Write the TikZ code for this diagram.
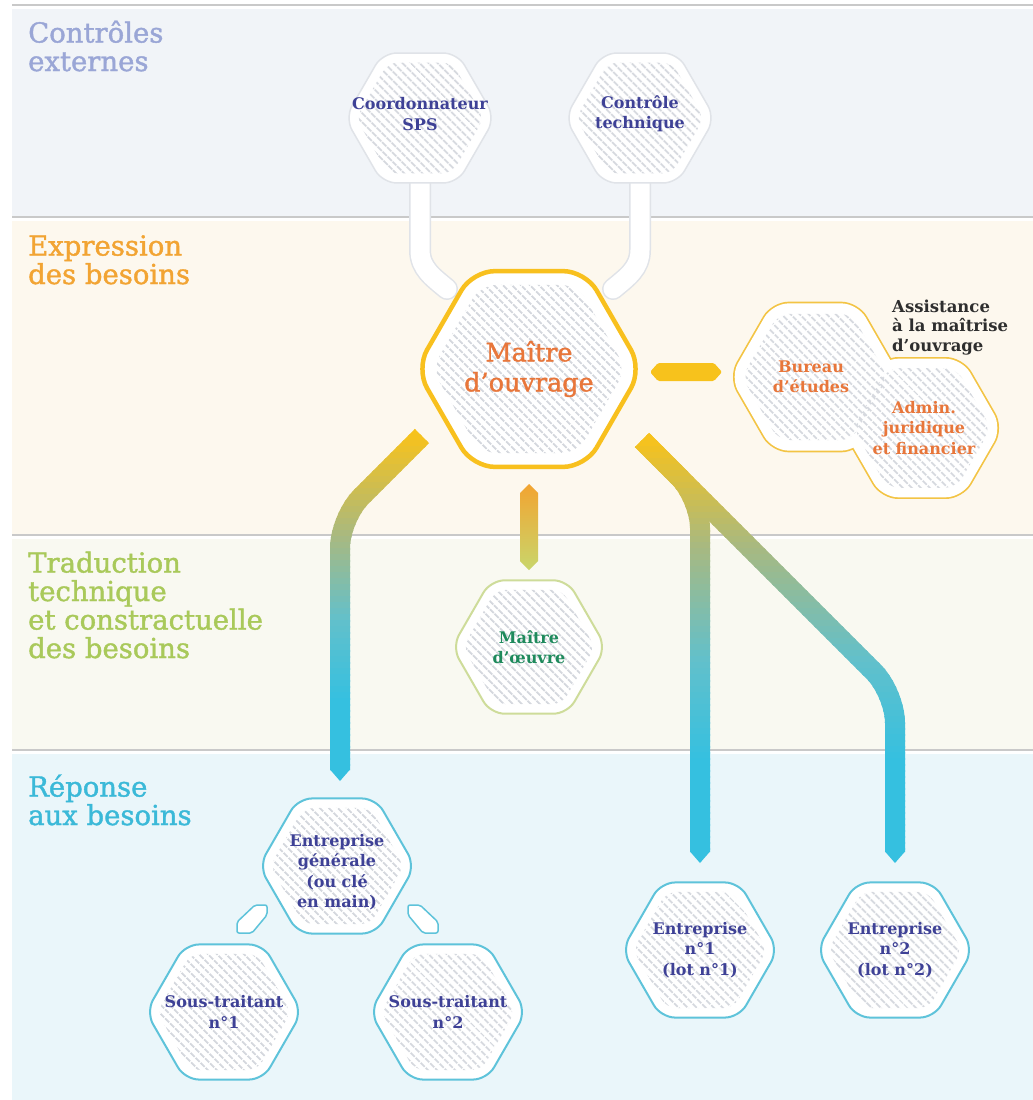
\documentclass[tikz,border=0pt]{standalone}
\usepackage{fontspec}
\setmainfont{DejaVu Serif}
\newfontfamily\headfont{DejaVu Serif}[FakeBold=1.4]
\usetikzlibrary{shapes.geometric,patterns.meta,calc}
\definecolor{cyel}{HTML}{F7C21C}
\definecolor{colive}{HTML}{A9B97F}
\definecolor{cteal}{HTML}{62C0CB}
\definecolor{ccyan}{HTML}{35C0E0}
\definecolor{moborder}{HTML}{F8C01E}
\definecolor{hexgray}{HTML}{E0E3E8}
\definecolor{indigo}{HTML}{3E4196}
\definecolor{orangetext}{HTML}{E8763A}
\definecolor{amoc}{HTML}{F3C444}
\definecolor{moec}{HTML}{CEDC9A}
\definecolor{greentext}{HTML}{1E8A5C}
\definecolor{cyanb}{HTML}{5EC3DA}
\definecolor{bandA}{HTML}{F1F4F8}
\definecolor{bandB}{HTML}{FDF8EE}
\definecolor{bandC}{HTML}{F9F9F1}
\definecolor{bandD}{HTML}{EAF6FA}
\definecolor{sepline}{HTML}{C9C9C9}
\definecolor{hatchc}{HTML}{D5D8DE}
\definecolor{hA}{HTML}{9AA6D6}
\definecolor{hB}{HTML}{F2A433}
\definecolor{hC}{HTML}{A9C95A}
\definecolor{hD}{HTML}{3BB9D8}
\definecolor{darktext}{HTML}{2E2E2E}
\definecolor{barorange}{HTML}{F2A431}
\definecolor{bargreen}{HTML}{C9D66B}
\newcommand\gradcol[5]{%
  \pgfmathsetmacro\gy{#1}%
  \ifdim\gy pt<#3pt
    \pgfmathsetmacro\gp{max(0,min(100,(#3-\gy)/(#3-#2)*100))}%
    \colorlet{gc}{cyel!\gp!colive}%
  \else\ifdim\gy pt<#4pt
    \pgfmathsetmacro\gp{(#4-\gy)/(#4-#3)*100}%
    \colorlet{gc}{colive!\gp!cteal}%
  \else
    \pgfmathsetmacro\gp{max(0,(#5-\gy)/(#5-#4)*100)}%
    \colorlet{gc}{cteal!\gp!ccyan}%
  \fi\fi}
\tikzset{
  hexbase/.style={regular polygon, regular polygon sides=6, inner sep=0pt, outer sep=0pt, fill=white},
  hexhatch/.style={regular polygon, regular polygon sides=6, inner sep=0pt, outer sep=0pt,
     pattern={Lines[angle=-45,distance=6.5pt,line width=2.2pt]}, pattern color=hatchc},
  ntext/.style={align=center, font=\bfseries\fontsize{16}{20.5}\selectfont, text=indigo, inner sep=0pt},
  heading/.style={align=left, anchor=base west, inner sep=0pt, font=\headfont\fontsize{27.5}{28.5}\selectfont},
  conn/.style={line width=20pt, rounded corners=30pt},
  stemo/.style={line width=22pt, draw=hexgray, line cap=round},
  stemi/.style={line width=19pt, draw=white, line cap=round},
  smallconn/.style={fill=white, draw=cyanb, line width=1.5pt, rounded corners=2pt},
}
\begin{document}
\begin{tikzpicture}[x=1pt,y=-1pt]
\useasboundingbox (0,0) rectangle (1033,1100);
\fill[white] (0,0) rectangle (1033,1100);
% bands
\fill[bandA] (12,9) rectangle (1033,216);
\fill[bandB] (12,221) rectangle (1033,534);
\fill[bandC] (12,539) rectangle (1033,749);
\fill[bandD] (12,754) rectangle (1033,1100);
\foreach \yy in {5,217,535,750}{\draw[sepline, line width=1.5pt] (12,\yy) -- (1033,\yy);}
% headings (anchored at the baseline of their last line)
\node[heading, text=hA] (hdA) at (28,71) {Contrôles\\externes};
\node[heading, text=hB] (hdB) at (28,284) {Expression\\des besoins};
\node[heading, text=hC] (hdC) at (28,658) {Traduction\\technique\\et constractuelle\\des besoins};
\node[heading, text=hD] (hdD) at (28,825) {Réponse\\aux besoins};
% coordinates
\coordinate (sps0) at (420,118);
\coordinate (ct0) at (640,118);
\coordinate (s1k) at (420,250);
\coordinate (s1e) at (447,289);
\coordinate (s2k) at (640,250);
\coordinate (s2e) at (613,289);
% stems
\draw[stemo] (sps0) -- (s1k) to[out=-90,in=140] (s1e);
\draw[stemo] (ct0) -- (s2k) to[out=-90,in=40] (s2e);
\draw[stemi] (sps0) -- (s1k) to[out=-90,in=140] (s1e);
\draw[stemi] (ct0) -- (s2k) to[out=-90,in=40] (s2e);
% big connectors
\coordinate (c1s) at (422,436);
\coordinate (c1b) at (340,518);
\coordinate (c1e) at (340,770);
\coordinate (c2s) at (642,440);
\coordinate (c2b) at (700,498);
\coordinate (c2e) at (700,852);
\coordinate (c3b) at (895,693);
\coordinate (c3e) at (895,852);
\foreach \y in {422,428,...,862}{%
  \begin{scope}
    \clip (0,\y) rectangle (1033,\y+7);
    \gradcol{\y+3}{435}{535}{620}{700}
    \draw[conn, draw=gc] (c1s) -- (c1b) -- (c1e);
    \gradcol{\y+3}{440}{545}{660}{760}
    \draw[conn, draw=gc] (c2s) -- (c2b) -- (c2e);
    \draw[conn, draw=gc] (c2s) -- (c3b) -- (c3e);
  \end{scope}}
\fill[ccyan] ($(c1e)+(-10,-0.5)$) -- ($(c1e)+(10,-0.5)$) -- ($(c1e)+(0,11)$) -- cycle;
\fill[ccyan] ($(c2e)+(-10,-0.5)$) -- ($(c2e)+(10,-0.5)$) -- ($(c2e)+(0,11)$) -- cycle;
\fill[ccyan] ($(c3e)+(-10,-0.5)$) -- ($(c3e)+(10,-0.5)$) -- ($(c3e)+(0,11)$) -- cycle;
% top hexagons
\node[hexbase, minimum size=150pt, draw=hexgray, line width=1.5pt, rounded corners=14pt] (sps) at (sps0) {};
\node[hexhatch, minimum size=128pt, rounded corners=10pt] (spsh) at (sps.center) {};
\node[hexbase, minimum size=150pt, draw=hexgray, line width=1.5pt, rounded corners=14pt] (ct) at (ct0) {};
\node[hexhatch, minimum size=128pt, rounded corners=10pt] (cth) at (ct.center) {};
% maitre d'ouvrage
\node[hexbase, minimum size=226pt, draw=moborder, line width=4.5pt, rounded corners=22pt] (mo) at (529,369) {};
\node[hexhatch, minimum size=194pt, rounded corners=16pt] (moh) at (mo.center) {};
% assistance cluster
\node[hexbase, minimum size=170pt, draw=amoc, line width=3.4pt, rounded corners=16pt] (be) at (815,377) {};
\node[hexbase, minimum size=160pt, draw=amoc, line width=3.4pt, rounded corners=16pt] (af) at (922,428) {};
\node[hexbase, minimum size=170pt, rounded corners=16pt] (bef) at (be.center) {};
\node[hexbase, minimum size=160pt, rounded corners=16pt] (aff) at (af.center) {};
\node[hexhatch, minimum size=146pt, rounded corners=12pt] (beh) at (be.center) {};
\node[hexhatch, minimum size=138pt, rounded corners=12pt] (afh) at (af.center) {};
% maitre d'oeuvre
\node[hexbase, minimum size=154pt, draw=moec, line width=2pt, rounded corners=14pt] (moe) at (529,647) {};
\node[hexhatch, minimum size=132pt, rounded corners=10pt] (moeh) at (moe.center) {};
% bottom hexagons
\foreach \nm/\px/\py in {eg/337/866, stA/224/1012, stB/448/1012, enA/700/950, enB/895/950}{%
  \node[hexbase, minimum size=156pt, draw=cyanb, line width=2pt, rounded corners=14pt] (\nm) at (\px,\py) {};
  \node[hexhatch, minimum size=134pt, rounded corners=10pt] (\nm h) at (\nm.center) {};
}
% small connectors between entreprise generale and sous-traitants
\coordinate (kA) at (252,919);
\coordinate (kB) at (423,919);
\begin{scope}[shift={(kA)}]
  \draw[smallconn] (3,-14) -- (15,-14) -- (15,-4) -- (0,14) -- (-15,14) -- (-15,3) -- cycle;
\end{scope}
\begin{scope}[shift={(kB)}]
  \draw[smallconn] (-3,-14) -- (-15,-14) -- (-15,-4) -- (0,14) -- (15,14) -- (15,3) -- cycle;
\end{scope}
% bars
\coordinate (hb) at (686,372);
\coordinate (vb) at (529,527);
\begin{scope}[shift={(hb)}]
  \fill[cyel, rounded corners=1.5pt] (-36,0) -- (-28,-9) -- (28,-9) -- (36,0) -- (28,9) -- (-28,9) -- cycle;
\end{scope}
\begin{scope}[shift={(vb)}]
  \shade[top color=barorange, bottom color=bargreen] (0,-43) -- (9,-34) -- (9,34) -- (0,43) -- (-9,34) -- (-9,-34) -- cycle;
\end{scope}
% texts
\node[ntext] (spst) at ($(sps.center)+(0,-4)$) {Coordonnateur\\SPS};
\node[ntext] (ctt) at ($(ct.center)+(0,-4)$) {Contrôle\\technique};
\node[align=center, inner sep=0pt, text=orangetext, font=\headfont\fontsize{25.5}{30}\selectfont] (mot) at (mo.center) {Maître\\d’ouvrage};
\node[align=left, anchor=base west, inner sep=0pt, text=darktext, font=\bfseries\fontsize{16.5}{19.5}\selectfont] (amot) at (892,351) {Assistance\\à la maîtrise\\d’ouvrage};
\node[ntext, text=orangetext] (bet) at ($(be.center)+(-4,0)$) {Bureau\\d’études};
\node[ntext, text=orangetext] (aft) at ($(af.center)+(2,0)$) {Admin.\\juridique\\et financier};
\node[ntext, text=greentext] (moet) at (moe.center) {Maître\\d’œuvre};
\node[ntext] (egt) at ($(eg.center)+(0,6)$) {Entreprise\\générale\\(ou clé\\en main)};
\node[ntext] (stAt) at (stA.center) {Sous-traitant\\n°1};
\node[ntext] (stBt) at (stB.center) {Sous-traitant\\n°2};
\node[ntext] (enAt) at (enA.center) {Entreprise\\n°1\\(lot n°1)};
\node[ntext] (enBt) at (enB.center) {Entreprise\\n°2\\(lot n°2)};
\end{tikzpicture}
\end{document}
